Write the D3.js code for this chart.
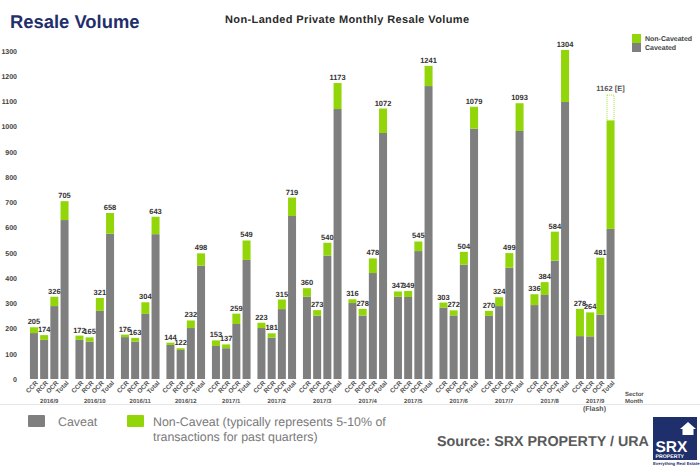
<!DOCTYPE html>
<html>
<head>
<meta charset="utf-8">
<script src="https://cdn.jsdelivr.net/npm/d3@7"></script>
<style>
  html, body { margin: 0; padding: 0; background: #fff; }
  svg { display: block; font-family: "Liberation Sans", Arial, sans-serif; }
</style>
</head>
<body>
<div id="chart"></div>
<script>
// Data
const months = ['2016/9', '2016/10', '2016/11', '2016/12', '2017/1', '2017/2', '2017/3', '2017/4', '2017/5', '2017/6', '2017/7', '2017/8', '2017/9'];
const sectors = ['CCR', 'RCR', 'OCR', 'Total'];
const ccrTotal = [205, 172, 176, 144, 153, 223, 360, 316, 347, 303, 270, 336, 278];
const rcrTotal = [174, 165, 163, 122, 137, 181, 273, 278, 349, 272, 324, 384, 264];
const ocrTotal = [326, 321, 304, 232, 259, 315, 540, 478, 545, 504, 499, 584, 481];
const allTotal = [705, 658, 643, 498, 549, 719, 1173, 1072, 1241, 1079, 1093, 1304, 1024];
const ccrCaveat = [182, 155, 166, 135, 131, 202, 326, 301, 326, 283, 250, 293, 170];
const rcrCaveat = [155, 148, 148, 115, 122, 164, 251, 251, 325, 252, 289, 333, 169];
const ocrCaveat = [289, 270, 258, 202, 218, 277, 489, 420, 507, 453, 441, 469, 255];
const allCaveat = [630, 576, 574, 449, 472, 646, 1070, 975, 1161, 992, 983, 1098, 595];
const yTicks = [0, 100, 200, 300, 400, 500, 600, 700, 800, 900, 1000, 1100, 1200, 1300];
const flashEstimateTop = 1125;
const flashEstimateLabel = '1162 [E]';

const WIDTH = 700;
const HEIGHT = 470;
const GREY = '#7f7f7f';
const GREEN = '#92d60a';
const NAVY = '#1f2f6b';

const totals = [ccrTotal, rcrTotal, ocrTotal, allTotal];
const caveats = [ccrCaveat, rcrCaveat, ocrCaveat, allCaveat];

// one row per bar
const rows = months.flatMap((month, m) =>
  sectors.map((sector, s) => ({
    month,
    sector,
    caveat: caveats[s][m],
    nonCaveat: totals[s][m] - caveats[s][m],
    total: totals[s][m],
  }))
);

const svg = d3
  .select('#chart')
  .append('svg')
  .attr('width', WIDTH)
  .attr('height', HEIGHT)
  .attr('viewBox', `0 0 ${WIDTH} ${HEIGHT}`)
  .attr('text-rendering', 'geometricPrecision');

// Scales
const y = d3.scaleLinear().domain([0, 1300]).range([379, 51]);
const xMonth = d3.scaleBand().domain(months).range([26.5, 618]);
const xSector = d3
  .scaleBand()
  .domain(sectors)
  .range([0, xMonth.bandwidth()])
  .paddingInner(0.216)
  .paddingOuter(0.338);
const barX = (d) => xMonth(d.month) + xSector(d.sector);
const barMid = (d) => barX(d) + xSector.bandwidth() / 2;

// Y axis
svg
  .append('g')
  .attr('transform', 'translate(17,0)')
  .call(d3.axisLeft(y).tickValues(yTicks).tickSize(0).tickPadding(0).tickFormat(d3.format('d')))
  .call((g) => g.select('.domain').remove())
  .call((g) =>
    g
      .selectAll('text')
      .attr('font-family', '"Liberation Sans", Arial, sans-serif')
      .attr('font-size', 7)
      .attr('font-weight', 'bold')
      .attr('fill', '#404040')
  );

// Bars
const stack = d3.stack().keys(['caveat', 'nonCaveat']);
const barColor = { caveat: GREY, nonCaveat: GREEN };

svg
  .append('g')
  .selectAll('g')
  .data(stack(rows))
  .join('g')
  .attr('fill', (layer) => barColor[layer.key])
  .selectAll('rect')
  .data((layer) => layer)
  .join('rect')
  .attr('x', (d) => barX(d.data))
  .attr('y', (d) => y(d[1]))
  .attr('width', xSector.bandwidth())
  .attr('height', (d) => y(d[0]) - y(d[1]));

// Dotted estimate on top of the flash total
const flashBar = rows[rows.length - 1];
svg
  .append('rect')
  .attr('x', barX(flashBar) + 0.5)
  .attr('y', y(flashEstimateTop))
  .attr('width', xSector.bandwidth() - 1)
  .attr('height', y(flashBar.total) - y(flashEstimateTop))
  .attr('fill', 'none')
  .attr('stroke', GREEN)
  .attr('stroke-width', 0.8)
  .attr('stroke-dasharray', '1,1');

// Value labels
svg
  .append('g')
  .selectAll('text')
  .data(rows.slice(0, -1))
  .join('text')
  .attr('x', barMid)
  .attr('y', (d) => y(d.total) - 3)
  .attr('text-anchor', 'middle')
  .attr('font-size', 7.5)
  .attr('font-weight', 'bold')
  .attr('fill', '#333')
  .text((d) => d.total);

svg
  .append('text')
  .attr('x', barMid(flashBar))
  .attr('y', y(flashEstimateTop) - 4)
  .attr('text-anchor', 'middle')
  .attr('font-size', 7.5)
  .attr('font-weight', 'bold')
  .attr('fill', '#555')
  .text(flashEstimateLabel);

// Sector labels, rotated
svg
  .append('g')
  .selectAll('text')
  .data(rows)
  .join('text')
  .attr('text-anchor', 'end')
  .attr('transform', (d) => `translate(${barMid(d) + 4.5},${y(0) + 4.5}) rotate(-45)`)
  .attr('font-size', 6.5)
  .attr('font-weight', 'bold')
  .attr('fill', '#555')
  .text((d) => d.sector);

// Month labels
svg
  .append('g')
  .selectAll('text')
  .data(months)
  .join('text')
  .attr('x', (d) => xMonth(d) + xMonth.bandwidth() / 2)
  .attr('y', 402.5)
  .attr('text-anchor', 'middle')
  .attr('font-size', 6)
  .attr('font-weight', 'bold')
  .attr('fill', '#555')
  .text((d) => d);

svg
  .append('line')
  .attr('x1', 0)
  .attr('x2', WIDTH)
  .attr('y1', 404.5)
  .attr('y2', 404.5)
  .attr('stroke', '#e6e6e6');

function addText(x, baseline, text, size, weight, color) {
  return svg
    .append('text')
    .attr('x', x)
    .attr('y', baseline)
    .attr('font-size', size)
    .attr('font-weight', weight)
    .attr('fill', color)
    .text(text);
}

addText(594.5, 411, '(Flash)', 7, 'bold', '#555').attr('text-anchor', 'middle');
addText(625, 396, 'Sector', 6, 'bold', '#555');
addText(625, 402.5, 'Month', 6, 'bold', '#555');

// Titles
addText(10, 28, 'Resale Volume', 18.4, 'bold', NAVY);
addText(225, 23, 'Non-Landed Private Monthly Resale Volume', 11, 'bold', '#2b2b2b').attr('textLength', 244);

// Top right legend
svg.append('rect').attr('x', 632).attr('y', 34).attr('width', 9).attr('height', 9).attr('fill', GREEN);
svg.append('rect').attr('x', 632).attr('y', 43).attr('width', 9).attr('height', 9).attr('fill', GREY);
addText(645, 41, 'Non-Caveated', 7, 'bold', '#444');
addText(645, 50, 'Caveated', 7, 'bold', '#444');

// Bottom legend
svg.append('rect').attr('x', 28).attr('y', 415).attr('width', 17).attr('height', 12).attr('rx', 1).attr('fill', GREY);
svg.append('rect').attr('x', 127).attr('y', 415).attr('width', 17).attr('height', 12).attr('rx', 1).attr('fill', GREEN);
addText(58, 426, 'Caveat', 12.4, 'normal', '#7a7a7a');
addText(153, 426, 'Non-Caveat (typically represents 5-10% of', 12.4, 'normal', '#7a7a7a');
addText(153, 440.5, 'transactions for past quarters)', 12.4, 'normal', '#7a7a7a');
addText(437, 446, 'Source:  SRX PROPERTY / URA', 14.3, 'bold', '#595959');

// Logo
const logo = svg.append('g').attr('transform', 'translate(653,417)');
logo.append('rect').attr('width', 44).attr('height', 43).attr('fill', NAVY);
logo.append('path').attr('d', 'M35 5l8 7h-2.5v6h-11v-6H27z').attr('fill', '#fff');
logo.append('text').attr('x', 2.5).attr('y', 35).attr('font-size', 15.5).attr('font-weight', 'bold').attr('fill', '#fff').text('SRX');
logo.append('text').attr('x', 2.5).attr('y', 41).attr('font-size', 5.2).attr('font-weight', 'bold').attr('fill', '#fff').text('PROPERTY');
logo.append('text').attr('x', 0).attr('y', 48).attr('font-size', 4.3).attr('font-weight', 'bold').attr('fill', NAVY).text('Everything Real Estate');
</script>
</body>
</html>
